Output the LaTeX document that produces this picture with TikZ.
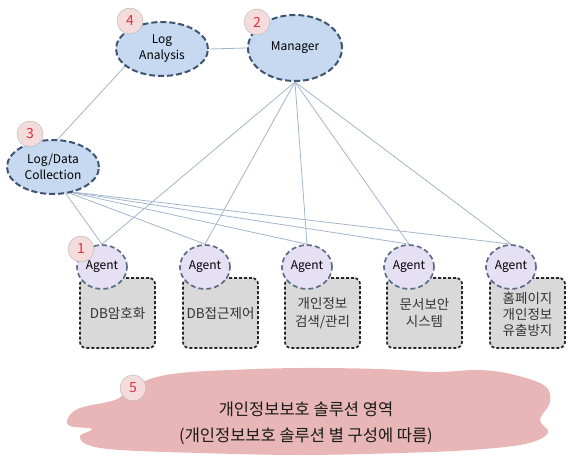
\documentclass[tikz,border=0pt]{standalone}
\usepackage{fontspec}
\setmainfont{Noto Sans CJK KR}
\usetikzlibrary{shapes.geometric,backgrounds}
\definecolor{ellfill}{HTML}{C6D9F1}
\definecolor{ellborder}{HTML}{3E5470}
\definecolor{agfill}{HTML}{E6E0F4}
\definecolor{boxfill}{HTML}{D9D9D9}
\definecolor{cloudfill}{HTML}{E8B6B6}
\definecolor{badgefill}{HTML}{F4DCDC}
\definecolor{linkcol}{HTML}{A3B5CB}
\definecolor{numred}{HTML}{E0303A}
\tikzset{
  comp/.style={ellipse, draw=ellborder, fill=ellfill, dash pattern=on 6pt off 3pt,
    line width=2pt, minimum width=92pt, minimum height=54pt, inner sep=0pt,
    align=center, font=\fontsize{12}{16}\selectfont, text=black},
  agentnode/.style={ellipse, draw=ellborder!85, fill=agfill, dash pattern=on 5pt off 3pt,
    line width=1.7pt, minimum width=50pt, minimum height=44pt, inner sep=0pt,
    font=\fontsize{12}{12}\selectfont, text=black},
  solbox/.style={rectangle, rounded corners=6pt, draw=black!85, fill=boxfill,
    dash pattern=on 3pt off 2pt, line width=1.7pt, minimum width=75pt, minimum height=70pt,
    align=center, font=\fontsize{13.5}{17.5}\selectfont, text=black!80},
  badge/.style={circle, draw=black!30, fill=badgefill, minimum size=26pt, inner sep=0pt,
    font=\fontsize{14}{14}\selectfont, text=numred},
  link/.style={draw=linkcol, line width=0.8pt},
}
\begin{document}
\begin{tikzpicture}[x=1pt,y=-1pt]
\useasboundingbox (0,0) rectangle (576,457);
% cloud
\fill[cloudfill] plot[smooth cycle, tension=0.6] coordinates {
  (68,418) (80,408) (115,400) (128,390) (150,379) (180,373) (230,370) (300,368)
  (380,369) (435,372) (480,370) (515,375) (545,386) (550,402) (540,420) (548,433)
  (525,444) (470,450) (400,453) (300,455) (200,453) (120,450) (88,445) (80,436)
  (92,429) (70,426)};
\node[font=\fontsize{16.5}{26}\selectfont, align=center, text=black!90] (cloudtxt) at (306,423)
  {개인정보보호 솔루션 영역\\(개인정보보호 솔루션 별 구성에 따름)};
\node[badge] (b5) at (133,388) {5};

% top components
\node[comp] (la) at (162,49) {Log\\Analysis};
\node[comp, minimum width=94pt, minimum height=66pt] (mgr) at (295,48) {Manager};
\node[comp] (ldc) at (53,167) {Log/Data\\Collection};

% solution boxes
\node[solbox] (s1) at (117.5,313) {DB암호화};
\node[solbox] (s2) at (220.5,313) {DB접근제어};
\node[solbox] (s3) at (322.5,313) {개인정보\\검색/관리};
\node[solbox] (s4) at (424.5,313) {문서보안\\시스템};
\node[solbox, font=\fontsize{13.5}{16}\selectfont] (s5) at (527.5,313) {\\[-2pt]홈페이지\\개인정보\\유출방지};

% agents
\node[agentnode] (a1) at (102,267) {Agent};
\node[agentnode] (a2) at (205,267) {Agent};
\node[agentnode] (a3) at (307,267) {Agent};
\node[agentnode] (a4) at (409,267) {Agent};
\node[agentnode] (a5) at (511,267) {Agent};

% badges
\node[badge] (b4) at (130,21) {4};
\node[badge] (b2) at (257,22) {2};
\node[badge] (b3) at (30,134) {3};
\node[badge] (b1) at (81,249) {1};

\coordinate (mgrb) at (295,82);
\coordinate (ldcb) at (64,191);

\begin{scope}[on background layer]
  \draw[link] (la.east) -- (mgr.west);
  \draw[link] (la.205) -- (ldc.80);
  \foreach \a in {a1,a2,a3,a4,a5} {
    \draw[link] (mgrb) -- (\a.north);
    \draw[link] (ldcb) -- (\a.north);
  }
\end{scope}
\end{tikzpicture}
\end{document}
